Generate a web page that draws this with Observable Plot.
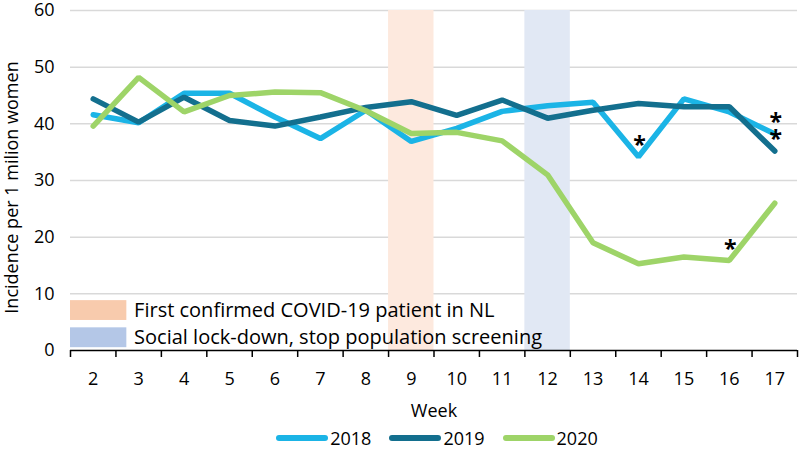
<!DOCTYPE html>
<html>
<head>
<meta charset="utf-8">
<script src="https://cdn.jsdelivr.net/npm/d3@7"></script>
<script src="https://cdn.jsdelivr.net/npm/@observablehq/plot@0.6"></script>
<style>
  html, body { margin: 0; padding: 0; background: #fff; }
  body { width: 800px; height: 450px; overflow: hidden; font-family: "Open Sans", sans-serif; }
  #legend { display: flex; justify-content: center; align-items: center; height: 27px; font-size: 18px; color: #000; margin-left: 74px; margin-top: 1px; }
  #legend .item { display: flex; align-items: center; margin: 0 9px; }
  #legend .sw { width: 52px; height: 6px; border-radius: 3px; margin-right: 2px; }
</style>
</head>
<body>
<div id="chart"></div>
<div id="legend"></div>
<script>
const weeks = [2, 3, 4, 5, 6, 7, 8, 9, 10, 11, 12, 13, 14, 15, 16, 17];
const series = ["2018", "2019", "2020"];
const colors = ["#1bb4e6", "#136f8e", "#9ed468"];
const v2018 = [41.6, 40.2, 45.4, 45.4, 41.2, 37.4, 42.4, 36.9, 39.2, 42.2, 43.2, 43.8, 34.2, 44.4, 42.1, 38.2];
const v2019 = [44.4, 40.3, 44.7, 40.6, 39.6, 41.2, 42.9, 43.9, 41.5, 44.2, 41.0, 42.4, 43.6, 43.0, 43.0, 35.2];
const v2020 = [39.6, 48.2, 42.1, 45.0, 45.6, 45.5, 42.3, 38.3, 38.5, 37.0, 31.0, 19.0, 15.3, 16.5, 15.9, 26.0];
const events = ["First confirmed COVID-19 patient in NL", "Social lock-down, stop population screening"];
const eventWeeks = [9, 12];
const bandColors = ["#fde9de", "#e1e8f4"];
const swatchColors = ["#f8cbad", "#b4c7e7"];
// significance markers: [series index, week]
const stars = [[0, 14], [0, 17], [1, 17], [2, 16]];
const yTicks = [0, 10, 20, 30, 40, 50, 60];
const yLabel = "Incidence per 1 milion women";
const xLabel = "Week";

const allValues = [v2018, v2019, v2020];
const rows = [];
series.forEach((s, i) => weeks.forEach((w, j) => rows.push({series: s, week: w, value: allValues[i][j]})));
const starRows = stars.map(([si, w]) => ({series: series[si], week: w, value: allValues[si][weeks.indexOf(w)]}));
const bands = events.map((e, i) => ({label: e, week: eventWeeks[i], fill: bandColors[i], swatch: swatchColors[i], idx: i}));
const boundaries = [weeks[0] - 0.5, ...weeks.map(w => w + 0.5)];

const plot = Plot.plot({
  width: 800,
  height: 423,
  marginLeft: 70,
  marginRight: 3,
  marginTop: 10,
  marginBottom: 73,
  style: {fontFamily: "Open Sans, sans-serif", fontSize: "17px", color: "#000", background: "#fff", overflow: "visible"},
  x: {type: "linear", domain: [weeks[0] - 0.5, weeks[weeks.length - 1] + 0.5]},
  y: {domain: [0, 60]},
  color: {domain: series, range: colors},
  marks: [
    Plot.ruleY(yTicks.filter(t => t > 0), {stroke: "#d9d9d9", strokeWidth: 1.5}),
    Plot.rectY(bands, {x1: d => d.week - 0.5, x2: d => d.week + 0.5, y1: 0, y2: 60, fill: "fill"}),
    // in-plot event legend
    Plot.rect(bands, {x1: weeks[0] - 0.5, x2: weeks[0] + 0.74, y1: d => d.idx === 0 ? 5.3 : 0.5, y2: d => d.idx === 0 ? 8.8 : 4.0, fill: "swatch"}),
    Plot.text(bands, {x: weeks[0] + 0.9, y: d => d.idx === 0 ? 7.05 : 2.25, text: "label", textAnchor: "start", fontSize: 20, fill: "#000"}),
    Plot.line(rows, {x: "week", y: "value", stroke: "series", strokeWidth: 5.5, strokeLinejoin: "miter", strokeLinecap: "round"}),
    Plot.text(starRows, {x: "week", y: "value", text: () => "*", dy: -11, dx: 1, fontSize: 23, fontWeight: "bold", fill: "#000"}),
    Plot.ruleY([0], {stroke: "#000", strokeWidth: 1.5}),
    Plot.axisY({ticks: yTicks, tickSize: 0, tickPadding: 16, fontSize: 18, label: null}),
    Plot.text([yLabel], {frameAnchor: "left", textAnchor: "middle", rotate: -90, dx: -58, dy: 7, fontSize: 18, fill: "#000"}),
    Plot.axisX({ticks: boundaries, tickSize: 7, tickFormat: () => "", stroke: "#000", strokeWidth: 1.5, label: null}),
    Plot.axisX({ticks: weeks, tickSize: 0, tickPadding: 22, fontSize: 18, tickFormat: d => String(d), label: xLabel, labelAnchor: "center", labelArrow: "none", labelOffset: 66})
  ]
});
document.getElementById("chart").appendChild(plot);

const legend = document.getElementById("legend");
series.forEach((s, i) => {
  const item = document.createElement("div");
  item.className = "item";
  const sw = document.createElement("span");
  sw.className = "sw";
  sw.style.background = colors[i];
  const t = document.createElement("span");
  t.textContent = s;
  item.appendChild(sw);
  item.appendChild(t);
  legend.appendChild(item);
});
</script>
</body>
</html>
